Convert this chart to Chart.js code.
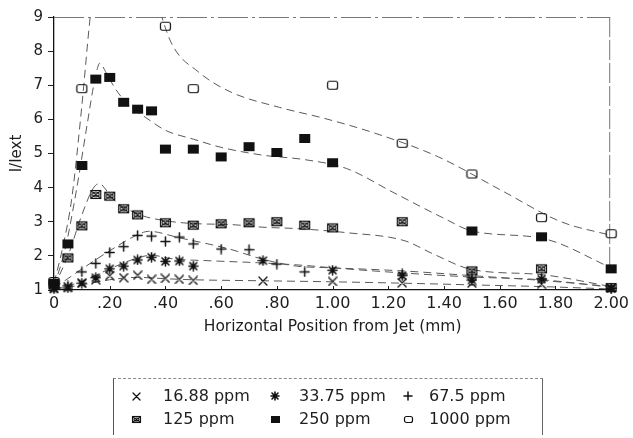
<!DOCTYPE html>
<html><head><meta charset="utf-8">
<script src="https://cdn.jsdelivr.net/npm/chart.js@4.4.1/dist/chart.umd.min.js"></script>
<style>
html,body{margin:0;padding:0;background:#fff;}
#wrap{position:relative;width:633px;height:438px;overflow:hidden;}
#c{position:absolute;left:0;top:0;}
#legend{position:absolute;left:113px;top:378px;width:428px;height:56px;border-top:1px dashed #8a8a8a;border-left:1px solid #555;border-right:1px solid #666;font-family:"DejaVu Sans",sans-serif;font-size:16px;color:#1e1e1e;}
#legend .t{position:absolute;line-height:20px;white-space:nowrap;}
#legend canvas{position:absolute;}
</style>
</head><body>
<div id="wrap"><canvas id="c" width="633" height="438"></canvas><div id="legend"></div></div>
<script>
// ---- data ----
const xTickLabels = ['0','.20','.40','.60','.80','1.00','1.20','1.40','1.60','1.80','2.00'];
const seriesNames = ['16.88 ppm','33.75 ppm','67.5 ppm','125 ppm','250 ppm','1000 ppm'];

const x16 = [0,0.05,0.10,0.15,0.20,0.25,0.30,0.35,0.40,0.45,0.50,0.75,1.00,1.25,1.50,1.75,2.00];
const y16 = [1.05,1.10,1.20,1.30,1.42,1.36,1.43,1.31,1.34,1.31,1.28,1.26,1.25,1.21,1.20,1.17,1.05];

const x33 = [0,0.05,0.10,0.15,0.20,0.25,0.30,0.35,0.40,0.45,0.50,0.75,1.00,1.25,1.50,1.75,2.00];
const y33 = [1.03,1.06,1.20,1.36,1.62,1.70,1.88,1.96,1.84,1.85,1.70,1.86,1.58,1.42,1.29,1.32,1.05];

const x67 = [0,0.05,0.10,0.15,0.20,0.25,0.30,0.35,0.40,0.45,0.50,0.60,0.70,0.80,0.90,1.25,1.50,1.75,2.00];
const y67 = [1.08,1.12,1.53,1.78,2.10,2.27,2.60,2.58,2.42,2.55,2.35,2.20,2.18,1.76,1.53,1.47,1.36,1.33,1.05];

const x125 = [0,0.05,0.10,0.15,0.20,0.25,0.30,0.40,0.50,0.60,0.70,0.80,0.90,1.00,1.25,1.50,1.75,2.00];
const y125 = [1.15,1.94,2.88,3.80,3.75,3.38,3.20,2.97,2.90,2.94,2.97,3.00,2.90,2.82,3.00,1.56,1.62,1.07];

const x250 = [0,0.05,0.10,0.15,0.20,0.25,0.30,0.35,0.40,0.50,0.60,0.70,0.80,0.90,1.00,1.50,1.75,2.00];
const y250 = [1.20,2.35,4.65,7.18,7.23,6.50,6.30,6.25,5.13,5.13,4.90,5.20,5.03,5.44,4.73,2.73,2.56,1.62];

const x1000 = [0,0.10,0.40,0.50,1.00,1.25,1.50,1.75,2.00];
const y1000 = [1.25,6.90,8.73,6.90,7.00,5.30,4.40,3.12,2.65];

// fitted dashed curves
const fx16 = [0,0.10,0.20,0.30,0.40,0.50,0.75,1.00,1.25,1.50,1.75,2.00];
const fy16 = [1.02,1.15,1.30,1.37,1.33,1.30,1.27,1.24,1.20,1.15,1.10,1.03];
const fx33 = [0,0.10,0.20,0.30,0.35,0.42,0.58,0.73,0.90,1.00,1.25,1.50,1.75,2.00];
const fy33 = [1.02,1.25,1.62,1.94,2.02,1.92,1.85,1.80,1.72,1.65,1.50,1.38,1.30,1.08];
const fx67 = [0,0.09,0.20,0.30,0.34,0.45,0.63,0.75,0.87,1.00,1.25,1.50,1.75,2.00];
const fy67 = [1.05,1.56,2.15,2.62,2.72,2.53,2.20,1.90,1.70,1.65,1.56,1.42,1.28,1.10];
const fx125 = [0,0.05,0.10,0.14,0.163,0.19,0.21,0.30,0.40,0.52,0.63,0.75,0.87,1.05,1.26,1.36,1.50,1.75,2.00];
const fy125 = [1.10,2.00,3.20,3.97,4.12,3.90,3.68,3.23,3.03,2.94,2.92,2.84,2.80,2.68,2.44,2.06,1.60,1.45,1.10];
const fx250 = [0,0.04,0.08,0.12,0.145,0.165,0.185,0.22,0.27,0.33,0.40,0.50,0.60,0.75,0.90,1.05,1.22,1.40,1.50,1.76,2.00];
const fy250 = [1.10,2.20,3.90,5.90,7.10,7.65,7.40,6.90,6.40,6.05,5.68,5.42,5.18,4.95,4.82,4.56,3.85,3.10,2.73,2.50,1.65];
const fx1000 = [0,0.03,0.064,0.10,0.128,0.16,0.25,0.35,0.42,0.52,0.635,0.81,0.97,1.15,1.38,1.61,1.82,2.00];
const fy1000 = [1.20,2.20,3.70,6.40,8.85,11.0,12.5,10.0,8.26,7.38,6.80,6.35,6.03,5.60,4.90,3.90,3.00,2.60];

// ---- marker images ----
function marker(type, s) {
  const w = type==='fill'||type==='open'||type==='boxx' ? Math.round(s*1.25) : s;
  const h = type==='fill'||type==='open'||type==='boxx' ? Math.round(s*0.95) : s;
  const c = document.createElement('canvas');
  c.width = w + 2; c.height = h + 2;
  const g = c.getContext('2d');
  g.strokeStyle = '#111'; g.fillStyle = '#111'; g.lineCap = 'round';
  const x0 = 1, y0 = 1;
  if (type === 'x') {
    g.lineWidth = 1.3; g.beginPath();
    g.moveTo(x0, y0); g.lineTo(x0+w, y0+h); g.moveTo(x0, y0+h); g.lineTo(x0+w, y0); g.stroke();
  } else if (type === 'plus') {
    g.lineWidth = 1.5; g.beginPath();
    g.moveTo(x0+w/2, y0); g.lineTo(x0+w/2, y0+h); g.moveTo(x0, y0+h/2); g.lineTo(x0+w, y0+h/2); g.stroke();
  } else if (type === 'star') {
    g.lineWidth = 1.6; g.beginPath();
    g.moveTo(x0+w/2, y0); g.lineTo(x0+w/2, y0+h);
    g.moveTo(x0, y0+h/2); g.lineTo(x0+w, y0+h/2);
    g.moveTo(x0+1, y0+1); g.lineTo(x0+w-1, y0+h-1);
    g.moveTo(x0+1, y0+h-1); g.lineTo(x0+w-1, y0+1);
    g.stroke();
  } else if (type === 'fill') {
    g.fillRect(x0, y0, w, h);
  } else if (type === 'open') {
    g.lineWidth = 1.2; g.beginPath();
    g.roundRect ? g.roundRect(x0+0.5, y0+0.5, w-1, h-1, 2) : g.rect(x0+0.5, y0+0.5, w-1, h-1);
    g.stroke();
  } else if (type === 'boxx') {
    g.lineWidth = 1.1;
    g.strokeRect(x0+0.5, y0+0.5, w-1, h-1);
    g.beginPath();
    g.moveTo(x0+1.5, y0+1.5); g.lineTo(x0+w-1.5, y0+h-1.5);
    g.moveTo(x0+1.5, y0+h-1.5); g.lineTo(x0+w-1.5, y0+1.5);
    g.stroke();
    g.beginPath(); g.ellipse(x0+w/2, y0+h/2, w/2-2, h/2-2, 0, 0, Math.PI*2); g.stroke();
  }
  return c;
}
const markerTypes = ['x','star','plus','boxx','fill','open'];
const markerSizes = [8,9,9,9,9,9];

function pts(xs, ys) { return xs.map((x, i) => ({x: x, y: ys[i]})); }
const seriesX = [x16, x33, x67, x125, x250, x1000];
const seriesY = [y16, y33, y67, y125, y250, y1000];
const fitX = [fx16, fx33, fx67, fx125, fx250, fx1000];
const fitY = [fy16, fy33, fy67, fy125, fy250, fy1000];

const datasets = [];
seriesNames.forEach((name, i) => {
  datasets.push({
    label: name,
    data: pts(seriesX[i], seriesY[i]),
    pointStyle: marker(markerTypes[i], markerSizes[i]),
    pointRadius: 5,
    showLine: false,
    clip: false,
  });
});
seriesNames.forEach((name, i) => {
  datasets.push({
    label: name + ' fit',
    data: pts(fitX[i], fitY[i]),
    showLine: true,
    pointRadius: 0,
    borderColor: '#5a5a5a',
    borderWidth: 1,
    borderDash: [8, 5],
    cubicInterpolationMode: 'monotone',
    fill: false,
  });
});

const FONT = '"DejaVu Sans", sans-serif';
const TXT = '#1e1e1e';

const framePlugin = {
  id: 'frame',
  beforeDatasetsDraw(chart) {
    const {ctx, chartArea: a, scales} = chart;
    ctx.save();
    ctx.strokeStyle = '#777'; ctx.lineWidth = 1;
    ctx.setLineDash([30, 4, 3, 4]);
    ctx.beginPath(); ctx.moveTo(a.left, a.top + 0.5); ctx.lineTo(a.right - 1, a.top + 0.5); ctx.stroke();
    ctx.setLineDash([20, 3]);
    ctx.beginPath(); ctx.moveTo(a.right - 1.5, a.top); ctx.lineTo(a.right - 1.5, a.bottom - 20); ctx.stroke();
    ctx.setLineDash([]);
    ctx.strokeStyle = '#222';
    scales.x.ticks.forEach(t => {
      const px = Math.round(scales.x.getPixelForValue(t.value)) + 0.5;
      ctx.beginPath(); ctx.moveTo(px, a.bottom); ctx.lineTo(px, a.bottom - 4); ctx.stroke();
    });
    ctx.restore();
  }
};

new Chart(document.getElementById('c'), {
  type: 'scatter',
  data: {datasets},
  options: {
    responsive: false,
    animation: false,
    layout: {autoPadding: false, padding: {left: 0, right: 15, top: 17, bottom: 102}},
    plugins: {legend: {display: false}, tooltip: {enabled: false}},
    scales: {
      x: {
        type: 'linear', min: 0, max: 2,
        afterFit(s) { s.height = 46; },
        ticks: {stepSize: 0.2, autoSkip: false, maxRotation: 0, padding: 4, color: TXT,
                font: {family: FONT, size: 16}, callback: (v, i) => xTickLabels[i]},
        grid: {drawOnChartArea: false, drawTicks: false},
        border: {color: '#111', width: 1.3},
        title: {display: true, text: 'Horizontal Position from Jet (mm)', color: TXT,
                font: {family: FONT, size: 15.5}, padding: 0}
      },
      y: {
        type: 'linear', min: 1, max: 9,
        afterFit(s) { s.width = 54; },
        ticks: {stepSize: 1, padding: 5, color: TXT, font: {family: FONT, size: 15}},
        grid: {drawOnChartArea: false, tickLength: 6, color: '#222'},
        border: {color: '#111', width: 1.3},
        title: {display: true, text: 'I/Iext', color: TXT,
                font: {family: FONT, size: 15}, padding: {top: 8, bottom: 0}}
      }
    }
  },
  plugins: [framePlugin]
});

// ---- legend ----
const legend = document.getElementById('legend');
const colMarkX = [22, 161, 294];
const colTextX = [49, 185, 315];
const rowY = [17, 40];
const legSizes = [7, 8, 8, 7, 7, 7];
seriesNames.forEach((name, i) => {
  const r = Math.floor(i / 3), col = i % 3;
  const m = marker(markerTypes[i], legSizes[i]);
  m.style.left = (colMarkX[col] - m.width / 2) + 'px';
  m.style.top = (rowY[r] - m.height / 2) + 'px';
  legend.appendChild(m);
  const t = document.createElement('div');
  t.className = 't';
  t.textContent = name;
  t.style.left = colTextX[col] + 'px';
  t.style.top = (rowY[r] - 10) + 'px';
  legend.appendChild(t);
});
</script>
</body></html>
